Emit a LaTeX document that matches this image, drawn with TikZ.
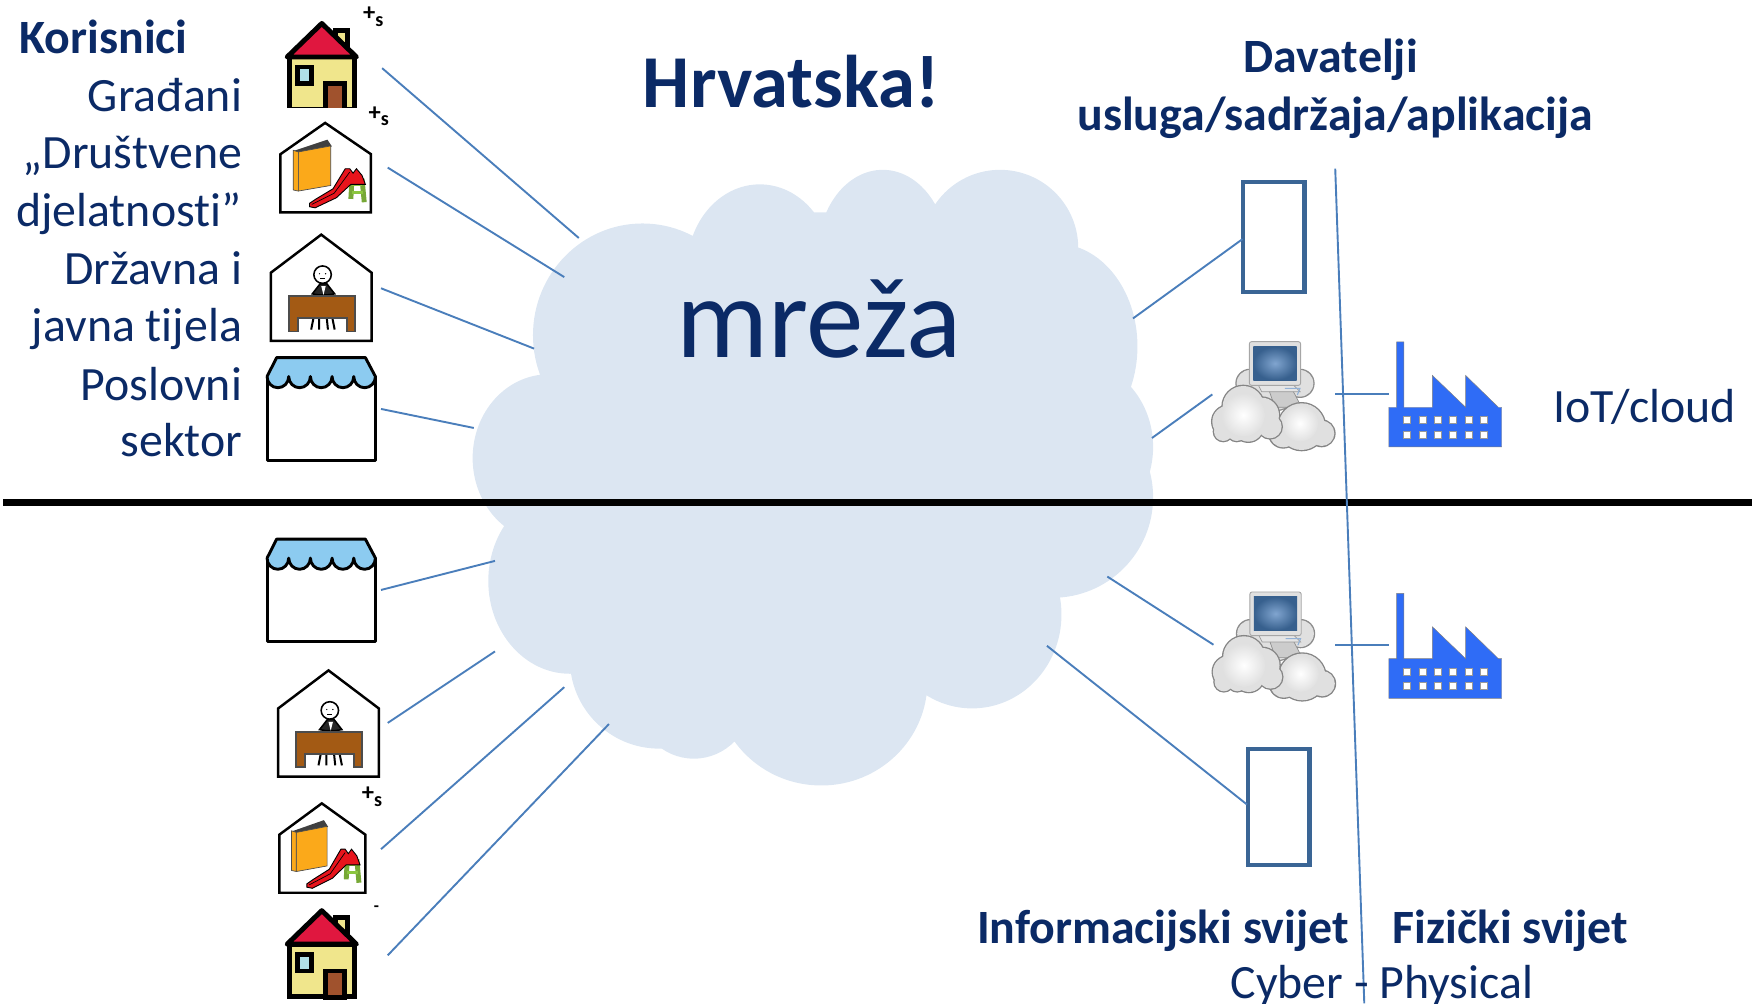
\documentclass[tikz,border=0pt]{standalone}
\usepackage{fontspec}
\setmainfont{Carlito}[Ligatures=CommonOff]
\definecolor{navy}{HTML}{0B2A66}
\definecolor{cloudfill}{HTML}{DCE6F2}
\definecolor{wire}{HTML}{4A7EBB}
\definecolor{tabletline}{HTML}{3A6595}
\definecolor{factoryblue}{HTML}{2F6CF6}
\definecolor{roofred}{HTML}{E0173F}
\definecolor{wallyellow}{HTML}{F0E68C}
\definecolor{windowblue}{HTML}{B0E0E8}
\definecolor{doorbrown}{HTML}{A0522D}
\definecolor{awning}{HTML}{8CCBF0}
\definecolor{deskbrown}{HTML}{A35A14}
\definecolor{bookorange}{HTML}{FBA91A}
\definecolor{slidered}{HTML}{E8141C}
\definecolor{ladder}{HTML}{8CC63F}
\newcommand{\plusS}{{\fontsize{11}{11}\selectfont\bfseries +}\raisebox{-2.4pt}{\fontsize{9}{9}\selectfont\bfseries s}}
\tikzset{
  wireline/.style={draw=wire,line width=0.85pt},
  lbl/.style={text=navy,inner sep=0pt,font=\fontsize{21.4}{25}\selectfont},
  lblb/.style={text=navy,inner sep=0pt,font=\fontsize{21.4}{25}\selectfont\bfseries},
  tablet/.style={draw=tabletline,line width=1.9pt,fill=white},
  markfont/.style={inner sep=0pt},
  pics/house/.style={code={
    \draw[line width=2.2pt,fill=wallyellow,line join=miter] (-29,31) rectangle (29,78);
    \draw[line width=2.2pt,fill=wallyellow] (12,7) rectangle (23,30);
    \draw[line width=2.2pt,fill=roofred,line join=round] (-31,31) -- (0,1) -- (31,31) -- cycle;
    \draw[line width=2.2pt,fill=windowblue] (-21.5,40) rectangle (-9.5,55);
    \draw[line width=2.2pt,fill=doorbrown] (3,55) rectangle (20,79);
  }},
  pics/playhouse/.style={code={
    \draw[line width=1.1pt,fill=white] (-40,28) -- (0,0) -- (41,28) -- (41,80) -- (-40,80) -- cycle;
    \fill[black!75] (-28,25) -- (2,15) -- (6,21) -- (-24,28) -- cycle;
    \fill[bookorange,draw=black!70,line width=.3pt] (-24,26) -- (5,20.6) -- (5,56) -- (-24,61) -- cycle;
    \fill[bookorange,draw=black!70,line width=.3pt] (-28.6,24.5) -- (-24,26) -- (-24,61) -- (-28.6,60) -- cycle;
    \draw[ladder!85!black,line width=2.2pt] (23,68) -- (24,50) (35,71) -- (33,50);
    \draw[ladder,line width=1.4pt] (24,55) -- (33,55) (24,62) -- (34,62);
    \fill[slidered,draw=black,line width=.4pt] (-14,72) -- (-8,68) -- (7,59) -- (18,41) -- (22,41) -- (25,45) -- (28,41) -- (33,47) -- (36,55) -- (23,55) -- (10,67) -- (-9,76) -- (-14,75) -- cycle;
    \draw[black,line width=.3pt] (-12,73) -- (8,63) -- (22,44);
  }},
  pics/office/.style={code={
    \draw[line width=1.1pt,fill=white] (-45,34) -- (0,0) -- (45,34) -- (45,95) -- (-45,95) -- cycle;
    \draw[line width=.9pt] (-7,75) -- (-9,85) (-2,75) -- (-2,85) (5,75) -- (6,85) (10,75) -- (12,85);
    \draw[line width=.7pt,fill=black!85] (-8,53) -- (-1,44) -- (5,44) -- (12,53) -- (5,54) -- (-2,54) -- cycle;
    \fill[white] (0,46) -- (4,46) -- (2,54) -- cycle;
    \draw[line width=.7pt,fill=white] (1.2,35.8) circle (7.8);
    \fill (-1.5,35) circle (.6) (3.9,35) circle (.6);
    \draw[line width=.3pt] (-1,39.5) -- (3.4,39.5);
    \draw[draw=black!70,line width=.7pt,fill=deskbrown] (-29,55) -- (30,55) -- (30,86.5) -- (23,86.5) -- (23,74.6) -- (-21,74.6) -- (-21,86.5) -- (-29,86.5) -- cycle;
  }},
  pics/shop/.style={code={
    \draw[line width=1.3pt,fill=white,line join=round] (0,17) rectangle (97,92);
    \draw[line width=1.3pt,fill=awning,line join=round] (0,17) -- (8.6,0) -- (88,0) -- (97,17)
      arc[start angle=0,end angle=180,x radius=9.7,y radius=10]
      arc[start angle=0,end angle=180,x radius=9.7,y radius=10]
      arc[start angle=0,end angle=180,x radius=9.7,y radius=10]
      arc[start angle=0,end angle=180,x radius=9.7,y radius=10]
      arc[start angle=0,end angle=180,x radius=9.7,y radius=10] -- cycle;
  }},
  pics/cloudpc/.style={code={
    \begin{scope}[scale=0.2983]
      \foreach \a/\b/\r in {180/190/40,330/190/40,255/200/70}{\fill[black!45] (\a,\b) circle (\r+4);}
      \foreach \a/\b/\r in {180/190/40,330/190/40,255/200/70}{\fill[black!12] (\a,\b) circle (\r);}
      \fill[black!20,draw=black!45,line width=.3pt] (235,205) -- (305,205) -- (335,262) -- (255,262) -- cycle;
      \fill[black!10,draw=black!40,line width=.3pt] (205,195) -- (310,195) -- (330,215) -- (215,215) -- cycle;
      \draw[wire!60,line width=.5pt] (285,205) -- (330,205) -- (322,225);
      \fill[black!12,draw=black!35,line width=.4pt,rounded corners=1pt] (178,65) rectangle (332,196);
      \shade[inner color=wire!70,outer color=tabletline!95!black] (190,80) rectangle (320,180);
      \foreach \a/\b/\r in {280/340/42,335/320/70,395/340/38,350/355/28}{\fill[black!48] (\a,\b) circle (\r+4);}
      \foreach \a/\b/\r in {280/340/42,335/320/70,395/340/38,350/355/28}{\fill[black!12] (\a,\b) circle (\r);}
      \shade[inner color=white,outer color=black!12] (330,310) circle (55);
      \foreach \a/\b/\r in {115/305/48,160/260/62,215/285/52,240/320/35,175/320/45,100/335/28,140/335/28}{\fill[black!48] (\a,\b) circle (\r+4);}
      \foreach \a/\b/\r in {115/305/48,160/260/62,215/285/52,240/320/35,175/320/45,100/335/28,140/335/28}{\fill[black!12] (\a,\b) circle (\r);}
      \shade[inner color=white,outer color=black!12] (160,285) circle (65);
    \end{scope}
  }},
  pics/factory/.style={code={
    \fill[factoryblue,draw=black!50,line width=.2pt] (0,94) -- (0,58.5) -- (7,58.5) -- (7,0) -- (13.5,0) -- (13.5,58.5) -- (39,58.5) -- (39,30) -- (68.7,58.5) -- (68.7,30) -- (98,58.5) -- (101,58.5) -- (101,94) -- cycle;
    \foreach \a in {16,30,44,57.5,71.5,85}{
      \foreach \b in {70,83}{
        \fill[white,draw=black!40,line width=.2pt] (\a-3.2,\b-3.2) rectangle (\a+3.2,\b+3.2);
      }
    }
  }},
}
\begin{document}
\begin{tikzpicture}[x=0.5pt,y=-0.5pt]
\useasboundingbox (0,0) rectangle (1568,897.7);
% cloud
\fill[cloudfill]
  (575,300) ellipse [x radius=98,y radius=100]
  (680,240) ellipse [x radius=65,y radius=75]
  (790,227) ellipse [x radius=58,y radius=75]
  (895,222) ellipse [x radius=70,y radius=70]
  (945,310) ellipse [x radius=73,y radius=92]
  (960,400) ellipse [x radius=72,y radius=78]
  (942,445) ellipse [x radius=90,y radius=90]
  (491,410) ellipse [x radius=68,y radius=75]
  (510,520) ellipse [x radius=73,y radius=83]
  (621,625) ellipse [x radius=52,y radius=54]
  (590,590) ellipse [x radius=80,y radius=80]
  (735,610) ellipse [x radius=95,y radius=93]
  (870,550) ellipse [x radius=80,y radius=84]
  (730,400) ellipse [x radius=240,y radius=210];
% divider
\coordinate (divL) at (3,450);
\coordinate (divR) at (1568,450);
\draw[line width=3pt] (divL) -- (divR);
% icons
\begin{scope}
  \clip (240,0) rectangle (345,96);
  \pic at (288,20) {house};
\end{scope}
\pic at (288,814) {house};
\pic at (291,110) {playhouse};
\pic[xscale=.95] at (288,719) {playhouse};
\pic at (287.5,210) {office};
\pic at (294,600) {office};
\pic at (239,320) {shop};
\pic at (239,482.5) {shop};
\pic at (1065,286.4) {cloudpc};
\pic at (1065.5,510.4) {cloudpc};
\pic at (1243,306) {factory};
\pic at (1243,531) {factory};
% tablets
\node[tablet,minimum width=27.5pt,minimum height=49pt,inner sep=0pt] (tabA) at (1140,212) {};
\node[tablet,minimum width=27.5pt,minimum height=52pt,inner sep=0pt] (tabB) at (1144.5,722) {};
% plus/minus marks
\node[markfont] (pa) at (334,15) {\plusS};
\node[markfont] (pb) at (339,104) {\plusS};
\node[markfont] (pc) at (333,713) {\plusS};
\node[markfont,font=\fontsize{7.5}{8}\selectfont\bfseries] (pd) at (337,813) {-};
% connector ends
\coordinate (h1) at (342,61);   \coordinate (c1) at (518,213);
\coordinate (h2) at (347,150);  \coordinate (c2) at (505,248);
\coordinate (h3) at (341,258);  \coordinate (c3) at (478,312);
\coordinate (h4) at (341,366);  \coordinate (c4) at (424,383);
\coordinate (h5) at (341,528);  \coordinate (c5) at (443,502);
\coordinate (h6) at (347,647);  \coordinate (c6) at (443,583);
\coordinate (h7) at (341,760);  \coordinate (c7) at (505,615);
\coordinate (h8) at (347,855);  \coordinate (c8) at (545,648);
\coordinate (r1) at (1014,285); \coordinate (t1) at (1112,214);
\coordinate (r2) at (1031,392); \coordinate (t2) at (1085,353);
\coordinate (r3) at (991,516);  \coordinate (t3) at (1086,577);
\coordinate (r4) at (937,578);  \coordinate (t4) at (1116,720);
\coordinate (f1a) at (1195,353); \coordinate (f1b) at (1243,353);
\coordinate (f2a) at (1195,577); \coordinate (f2b) at (1243,577);
\coordinate (vA) at (1195,151); \coordinate (vB) at (1221,898);
\foreach \a/\b in {h1/c1,h2/c2,h3/c3,h4/c4,h5/c5,h6/c6,h7/c7,h8/c8,r1/t1,r2/t2,r3/t3,r4/t4,f1a/f1b,f2a/f2b,vA/vB}{
  \draw[wireline] (\a) -- (\b);
}
% texts
\node[lblb,anchor=base west] (kor) at (17,48) {Korisnici};
\node[lbl,anchor=base east] (l1) at (217,100) {Građani};
\node[lbl,anchor=base east] (l2) at (217,151) {„Društvene};
\node[lbl,anchor=base east] (l3) at (217,203) {djelatnosti”};
\node[lbl,anchor=base east] (l4) at (217,255) {Državna i};
\node[lbl,anchor=base east] (l5) at (217,306) {javna tijela};
\node[lbl,anchor=base east] (l6) at (217,358) {Poslovni};
\node[lbl,anchor=base east] (l7) at (217,409) {sektor};
\node[text=navy,inner sep=0pt,font=\fontsize{33.4}{36}\selectfont\bfseries,anchor=base] (hr) at (708,96) {Hrvatska!};
\node[text=navy,inner sep=0pt,font=\fontsize{51.5}{55}\selectfont,anchor=base] (mr) at (733,320) {mreža};
\node[lblb,anchor=base] (dav) at (1191,65) {Davatelji};
\node[lblb,anchor=base] (usl) at (1195,117) {usluga/sadržaja/aplikacija};
\node[lbl,anchor=base west] (iot) at (1390,378) {IoT/cloud};
\node[lblb,anchor=base west] (inf) at (874,844) {Informacijski svijet};
\node[lblb,anchor=base west] (fiz) at (1246,844) {Fizički svijet};
\node[lbl,anchor=base west] (cyb) at (1101,894) {Cyber - Physical};
\end{tikzpicture}
\end{document}
